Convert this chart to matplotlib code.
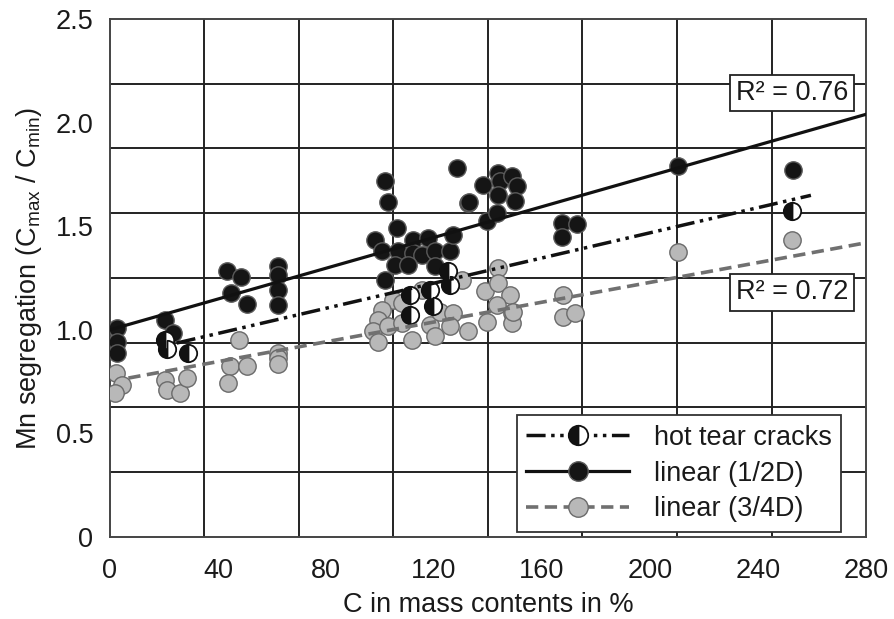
import numpy as np
import matplotlib
matplotlib.use('Agg')
import matplotlib.pyplot as plt
from matplotlib.lines import Line2D

plt.rcParams['font.family'] = ['Liberation Sans', 'DejaVu Sans']
plt.rcParams['mathtext.default'] = 'regular'

# linear (1/2D) - black points
black_x = [2.5, 2.5, 2.5, 20.4, 23.3,
           43.2, 48.4, 44.7, 50.6,
           62.3, 62.3, 62.3, 62.3,
           101.9, 103.1, 128.4, 132.7, 106.4,
           98.1, 100.6, 106.8, 112.3, 117.9, 112.3, 115.4, 120.4, 125.9, 127.2,
           105.6, 110.5, 120.4, 101.9,
           139.5, 143.2, 138.3, 143.8, 144.4, 143.8, 148.8, 150.6, 150.0, 133.1,
           167.3, 172.8, 167.3,
           210.5, 252.8]
black_y = [1.008, 0.943, 0.890, 1.048, 0.985,
           1.286, 1.253, 1.177, 1.126,
           1.306, 1.266, 1.193, 1.121,
           1.716, 1.615, 1.781, 1.612, 1.491,
           1.435, 1.378, 1.378, 1.435, 1.443, 1.370, 1.362, 1.378, 1.378, 1.459,
           1.314, 1.314, 1.306, 1.242,
           1.523, 1.564, 1.700, 1.757, 1.716, 1.652, 1.741, 1.692, 1.620, 1.615,
           1.515, 1.512, 1.448,
           1.792, 1.773]

# linear (3/4D) - gray points
gray_x = [2.2, 4.3, 1.9, 20.4, 21.0, 25.9, 28.6,
          47.9, 44.4, 50.9, 43.6, 62.3, 62.3, 62.3,
          104.9, 100.6, 99.4, 97.5, 99.4, 103.1, 108.0, 108.0, 111.7, 115.4,
          118.5, 120.4, 122.2, 127.2, 125.9, 132.7, 130.2,
          143.8, 138.9, 143.8, 148.1, 143.2, 148.8, 139.5, 148.8, 149.4,
          167.9, 167.9, 172.2,
          210.5, 252.5]
gray_y = [0.791, 0.734, 0.694, 0.758, 0.707, 0.697, 0.767,
          0.952, 0.823, 0.823, 0.743, 0.887, 0.863, 0.836,
          1.145, 1.097, 1.048, 0.992, 0.943, 1.016, 1.129, 1.032, 0.952, 1.193,
          1.024, 0.968, 1.088, 1.081, 1.016, 0.992, 1.242,
          1.298, 1.185, 1.226, 1.169, 1.121, 1.081, 1.040, 1.032, 1.088,
          1.169, 1.064, 1.081,
          1.374, 1.431]

# hot tear cracks - half filled points
hot_x = [20.4, 21.0, 29.0, 111.1, 111.1, 118.5, 119.7, 125.3, 125.9, 252.5]
hot_y = [0.95, 0.905, 0.89, 1.169, 1.072, 1.193, 1.113, 1.282, 1.217, 1.575]

# trend lines (end points)
trend_black_x = [0, 280]
trend_black_y = [1.0, 2.04]
trend_hot_x = [24.7, 259.6]
trend_hot_y = [0.936, 1.649]
trend_gray_x = [6.8, 280]
trend_gray_y = [0.767, 1.42]

r2_black = 0.76
r2_gray = 0.72

xticks = [0, 40, 80, 120, 160, 200, 240, 280]
yticks = [0, 0.5, 1.0, 1.5, 2.0, 2.5]
ytick_labels = ['0', '0.5', '1.0', '1.5', '2.0', '2.5']

txt = '#1a1a1a'
fs = 19.5
ms = 12.5
hot_dash = (0, (5.5, 1.6, 1, 1.6, 1, 1.6))
gray_dash = (0, (3.4, 1.8))

fig = plt.figure(figsize=(8.95, 6.19), dpi=100)
ax = fig.add_axes([0.1229, 0.1325, 0.8447, 0.8368])
ax.set_xlim(0, 280)
ax.set_ylim(0, 2.5)

# grid every 1/8 of the range (not at the labelled ticks)
ax.set_xticks(np.linspace(0, 280, 9), minor=True)
ax.set_yticks(np.linspace(0, 2.5, 9), minor=True)
ax.grid(which='minor', color='#222222', lw=1.4, zorder=0)
ax.set_axisbelow(True)
ax.set_xticks(xticks)
ax.set_yticks(yticks)
ax.set_yticklabels(ytick_labels)
ax.tick_params(which='both', length=0)
ax.tick_params(axis='x', pad=15, labelsize=fs, labelcolor=txt)
ax.tick_params(axis='y', pad=12, labelsize=fs, labelcolor=txt)
for s in ax.spines.values():
    s.set_color('#444444')
    s.set_linewidth(1.4)

ax.plot(gray_x, gray_y, 'o', ms=ms, mfc='#b8b8b8', mec='#6a6a6a', mew=1.0, zorder=3)
ax.plot(black_x, black_y, 'o', ms=ms, mfc='#151515', mec='#5a5a5a', mew=1.0, zorder=3)
ax.plot(hot_x, hot_y, 'o', ms=ms, fillstyle='left', mfc='#111111',
        markerfacecoloralt='white', mec='#111111', mew=1.3, zorder=4)

ax.plot(trend_black_x, trend_black_y, '-', color='#111111', lw=2.3, zorder=5)
ax.plot(trend_hot_x, trend_hot_y, color='#111111', lw=2.5, ls=hot_dash, zorder=5)
ax.plot(trend_gray_x, trend_gray_y, color='#707070', lw=2.6, ls=gray_dash, zorder=5)

box = dict(boxstyle='square,pad=0.2', fc='white', ec='#222222', lw=1.3)
ax.text(252.6, 2.143, 'R² = %.2f' % r2_black, fontsize=fs, color=txt,
        ha='center', va='center', bbox=box, zorder=6)
ax.text(252.6, 1.18, 'R² = %.2f' % r2_gray, fontsize=fs, color=txt,
        ha='center', va='center', bbox=box, zorder=6)

handles = [
    Line2D([], [], color='#111111', lw=2.5, ls=hot_dash, marker='o', ms=14,
           fillstyle='left', mfc='#111111', markerfacecoloralt='white', mec='#111111', mew=1.3),
    Line2D([], [], color='#111111', lw=2.3, marker='o', ms=14, mfc='#151515', mec='#5a5a5a'),
    Line2D([], [], color='#707070', lw=2.6, ls=gray_dash, marker='o', ms=14,
           mfc='#b8b8b8', mec='#6a6a6a'),
]
leg = ax.legend(handles, ['hot tear cracks', 'linear (1/2D)', 'linear (3/4D)'],
                loc='lower right', bbox_to_anchor=(0.967, 0.01), borderaxespad=0,
                fontsize=fs, handlelength=3.8, labelspacing=0.36, handletextpad=0.9,
                fancybox=False, framealpha=1, edgecolor='#333333', borderpad=0.35)
leg.get_frame().set_linewidth(1.3)
leg.set_zorder(7)
for t in leg.get_texts():
    t.set_color(txt)

ax.set_xlabel('C in mass contents in %', fontsize=fs, color=txt, labelpad=6)
ax.set_ylabel('Mn segregation (C$_{max}$ / C$_{min}$)', fontsize=fs, color=txt, labelpad=8)

fig.savefig('out.png', dpi=100)
